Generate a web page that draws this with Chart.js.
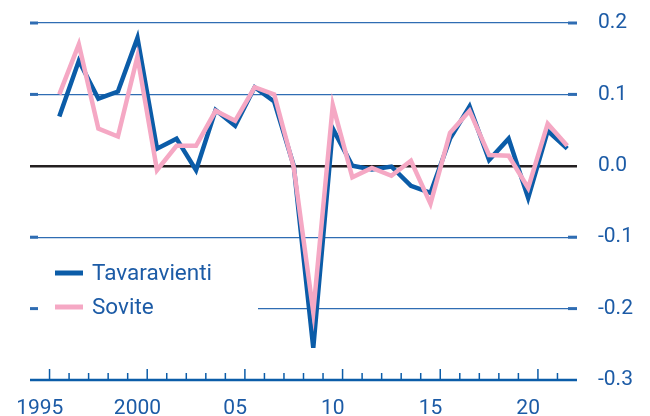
<!DOCTYPE html>
<html>
<head>
<meta charset="utf-8">
<script src="https://cdn.jsdelivr.net/npm/chart.js@4/dist/chart.umd.min.js"></script>
<style>
  html, body { margin: 0; padding: 0; background: #fff; }
  #wrap { width: 650px; height: 416px; }
</style>
</head>
<body>
<div id="wrap"><canvas id="chart" width="650" height="416"></canvas></div>
<script>
const years = [1996, 1997, 1998, 1999, 2000, 2001, 2002, 2003, 2004, 2005, 2006, 2007, 2008, 2009,
  2010, 2011, 2012, 2013, 2014, 2015, 2016, 2017, 2018, 2019, 2020, 2021, 2022]
const tavaravienti = [0.069, 0.147, 0.094, 0.104, 0.179, 0.024, 0.038, -0.006, 0.078, 0.056, 0.110, 0.090, 0.000, -0.255,
  0.052, 0.000, -0.005, -0.001, -0.028, -0.038, 0.038, 0.083, 0.008, 0.038, -0.045, 0.049, 0.024]
const sovite = [0.100, 0.170, 0.052, 0.041, 0.153, -0.006, 0.028, 0.028, 0.077, 0.063, 0.110, 0.100, -0.002, -0.205,
  0.085, -0.016, -0.003, -0.014, 0.007, -0.053, 0.046, 0.077, 0.015, 0.014, -0.031, 0.059, 0.028]
const xTickYears = [1995, 2000, 2005, 2010, 2015, 2020]
const xTickLabels = ['1995', '2000', '05', '10', '15', '20']
const yTicks = [-0.3, -0.2, -0.1, 0.0, 0.1, 0.2]

const BLUE = '#0b5ca8'
const PINK = '#f5a8c4'
const TEXT = '#1c5ba6'
const GRID = '#2f6db3'
const FONT = "'Roboto', 'Liberation Sans', sans-serif"

// stubs at the grid ends, year ticks on the x axis, white box under the legend
const decor = {
  id: 'decor',
  beforeDatasetsDraw(chart) {
    const { ctx, chartArea: a, scales: { x, y } } = chart
    ctx.save()
    // legend background hides the grid line behind it
    ctx.fillStyle = '#fff'
    ctx.fillRect(a.left + 8, a.bottom - 105, 220, 95)
    ctx.strokeStyle = GRID
    ctx.lineWidth = 3
    yTicks.forEach(v => {
      if (v === 0 || v === yTicks[0]) return
      const py = y.getPixelForValue(v)
      ctx.beginPath(); ctx.moveTo(a.left, py); ctx.lineTo(a.left + 8, py); ctx.stroke()
      ctx.beginPath(); ctx.moveTo(a.right - 9, py); ctx.lineTo(a.right, py); ctx.stroke()
    })
    ctx.lineWidth = 1.5
    ctx.strokeStyle = BLUE
    for (let yr = 1995; yr < 2022; yr++) {
      const px = x.getPixelForValue(yr + 0.5)
      const len = yr % 5 === 0 ? 11 : 7
      ctx.beginPath(); ctx.moveTo(px, a.bottom); ctx.lineTo(px, a.bottom - len); ctx.stroke()
    }
    ctx.lineWidth = 2.5
    ctx.beginPath(); ctx.moveTo(a.left, a.bottom); ctx.lineTo(a.right, a.bottom); ctx.stroke()
    ctx.restore()
  },
  afterDraw(chart) {
    const { ctx, chartArea: a } = chart
    const items = [0, 1].map(i => chart.data.datasets[i])
    ctx.save()
    ctx.font = '22.5px ' + FONT
    ctx.textBaseline = 'middle'
    items.forEach((ds, i) => {
      const yy = a.bottom - 107 + i * 34
      ctx.strokeStyle = ds.borderColor
      ctx.lineWidth = 5
      ctx.beginPath(); ctx.moveTo(a.left + 25, yy); ctx.lineTo(a.left + 53, yy); ctx.stroke()
      ctx.fillStyle = TEXT
      ctx.fillText(ds.label, a.left + 62, yy + 1)
    })
    ctx.restore()
  }
}

new Chart(document.getElementById('chart'), {
  type: 'line',
  data: {
    datasets: [
      {
        label: 'Tavaravienti',
        data: years.map((yr, i) => ({ x: yr, y: tavaravienti[i] })),
        borderColor: BLUE,
        borderWidth: 4.5,
        pointRadius: 0,
        tension: 0,
        order: 2
      },
      {
        label: 'Sovite',
        data: years.map((yr, i) => ({ x: yr, y: sovite[i] })),
        borderColor: PINK,
        borderWidth: 4.5,
        pointRadius: 0,
        tension: 0,
        order: 1
      }
    ]
  },
  options: {
    responsive: false,
    animation: false,
    layout: { padding: { left: 30, top: 23, right: 0, bottom: 0 } },
    plugins: { legend: { display: false }, tooltip: { enabled: false } },
    scales: {
      x: {
        type: 'linear',
        min: 1994.5,
        max: 2022.5,
        afterBuildTicks: s => { s.ticks = xTickYears.map(v => ({ value: v })) },
        afterFit: s => { s.height = 36; s.paddingLeft = 0; s.paddingRight = 0 },
        grid: { display: false },
        border: { display: false },
        ticks: {
          autoSkip: false,
          maxRotation: 0,
          padding: 8,
          color: TEXT,
          font: { family: FONT, size: 21 },
          callback: v => xTickLabels[xTickYears.indexOf(v)]
        }
      },
      y: {
        position: 'right',
        min: -0.3,
        max: 0.2,
        afterBuildTicks: s => { s.ticks = yTicks.map(v => ({ value: v })) },
        afterFit: s => { s.width = 73; s.paddingTop = 0; s.paddingBottom = 0 },
        grid: {
          drawTicks: false,
          color: c => Math.abs(c.tick.value) < 1e-9 ? '#231f20' : GRID,
          lineWidth: c => Math.abs(c.tick.value) < 1e-9 ? 2.5 : 1.2
        },
        border: { display: false },
        ticks: {
          padding: 21,
          color: TEXT,
          font: { family: FONT, size: 21 },
          callback: v => v.toFixed(1)
        }
      }
    }
  },
  plugins: [decor]
})
</script>
</body>
</html>
